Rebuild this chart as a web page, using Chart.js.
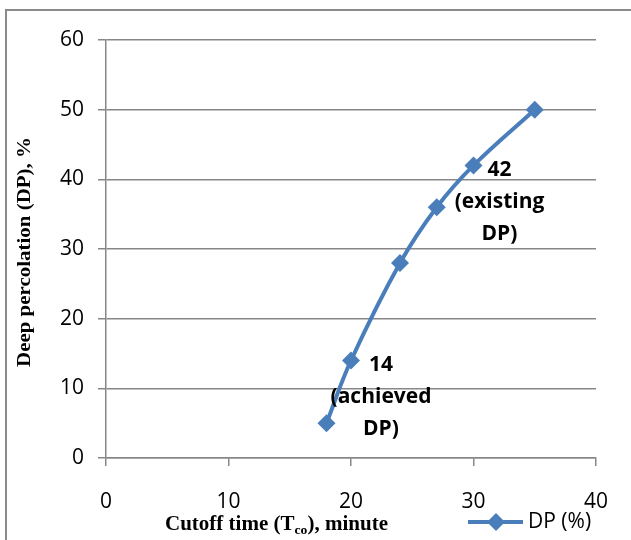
<!DOCTYPE html>
<html>
<head>
<meta charset="utf-8">
<script src="https://cdn.jsdelivr.net/npm/chart.js@4.4.1/dist/chart.umd.min.js"></script>
<style>
    html, body { margin: 0; padding: 0; background: #fff; }
    #wrap { width: 631px; height: 540px; }
</style>
</head>
<body>
<div id="wrap"><canvas id="dpChart" width="631" height="540"></canvas></div>
<script>
// Данные
const cutoffTimes = [18, 20, 24, 27, 30, 35];
const dpValues = [5, 14, 28, 36, 42, 50];
const seriesLabel = 'DP (%)';
const xTickValues = [0, 10, 20, 30, 40];
const yTickValues = [0, 10, 20, 30, 40, 50, 60];
// подписи у точек: индекс точки и строки текста
const noteIndexes = [1, 4];
const noteLines = [['14', '(achieved', 'DP)'], ['42', '(existing', 'DP)']];

const lineColor = '#4A7EBB';
const gridColor = '#878787';
const sans = '"Open Sans", "Liberation Sans", sans-serif';
const serif = '"Liberation Serif", "Times New Roman", serif';

// рамка, подписи осей, легенда и подписи у точек
const extrasPlugin = {
    id: 'extras',
    afterDraw(chart) {
        const ctx = chart.ctx;
        ctx.save();

        // рамка вокруг диаграммы
        ctx.strokeStyle = '#8a8a8a';
        ctx.lineWidth = 2;
        ctx.strokeRect(6, 10, 700, 600);

        // подписи у точек
        const meta = chart.getDatasetMeta(0);
        ctx.fillStyle = '#000';
        ctx.font = 'bold 21px ' + sans;
        ctx.textAlign = 'center';
        ctx.textBaseline = 'middle';
        noteIndexes.forEach((idx, n) => {
            const pt = meta.data[idx];
            const dx = n === 0 ? 30 : 26;
            noteLines[n].forEach((line, k) => {
                ctx.fillText(line, pt.x + dx, pt.y + 5 + k * 32);
            });
        });

        // заголовок оси Y
        ctx.save();
        ctx.translate(25, 252);
        ctx.rotate(-Math.PI / 2);
        ctx.font = 'bold 18px ' + serif;
        const yTitle = 'Deep percolation (DP), %';
        const yw = ctx.measureText(yTitle).width;
        ctx.scale(230 / yw, 1);
        ctx.textAlign = 'center';
        ctx.textBaseline = 'middle';
        ctx.fillText(yTitle, 0, 0);
        ctx.restore();

        // заголовок оси X с нижним индексом
        const parts = [
            { t: 'Cutoff time (T', f: 'bold 20px ' + serif, dy: 0 },
            { t: 'co', f: 'bold 13px ' + serif, dy: 4 },
            { t: '), minute', f: 'bold 20px ' + serif, dy: 0 }
        ];
        let total = 0;
        parts.forEach(p => { ctx.font = p.f; p.w = ctx.measureText(p.t).width; total += p.w; });
        ctx.save();
        ctx.translate(165, 530);
        ctx.scale(223 / total, 1);
        let x = 0;
        ctx.textAlign = 'left';
        ctx.textBaseline = 'alphabetic';
        parts.forEach(p => {
            ctx.font = p.f;
            ctx.fillText(p.t, x, p.dy);
            x += p.w;
        });
        ctx.restore();

        // легенда
        const ly = 522;
        ctx.strokeStyle = lineColor;
        ctx.lineWidth = 4;
        ctx.beginPath();
        ctx.moveTo(468, ly);
        ctx.lineTo(523, ly);
        ctx.stroke();
        ctx.fillStyle = lineColor;
        ctx.beginPath();
        ctx.moveTo(496, ly - 9);
        ctx.lineTo(505, ly);
        ctx.lineTo(496, ly + 9);
        ctx.lineTo(487, ly);
        ctx.closePath();
        ctx.fill();
        ctx.fillStyle = '#000';
        ctx.font = '21px ' + sans;
        ctx.textAlign = 'left';
        ctx.textBaseline = 'middle';
        ctx.fillText(chart.data.datasets[0].label, 528, ly);

        ctx.restore();
    }
};

new Chart(document.getElementById('dpChart'), {
    type: 'line',
    data: {
        datasets: [{
            label: seriesLabel,
            data: cutoffTimes.map((t, i) => ({ x: t, y: dpValues[i] })),
            borderColor: lineColor,
            backgroundColor: lineColor,
            borderWidth: 4,
            tension: 0.4,
            pointStyle: 'rectRot',
            pointRadius: 9,
            pointHoverRadius: 9,
            pointBorderWidth: 0,
            fill: false
        }]
    },
    options: {
        responsive: false,
        animation: false,
        events: [],
        layout: { padding: { top: 40, right: 34, left: 0, bottom: 0 } },
        plugins: {
            legend: { display: false },
            title: { display: false },
            tooltip: { enabled: false }
        },
        scales: {
            x: {
                type: 'linear',
                min: 0,
                max: 40,
                afterFit: s => { s.height = 82; },
                afterBuildTicks: s => { s.ticks = xTickValues.map(v => ({ value: v })); },
                grid: { drawOnChartArea: false, drawTicks: true, tickLength: 8, color: gridColor, lineWidth: 1.5 },
                border: { display: true, color: gridColor, width: 1.5 },
                ticks: { color: '#000', font: { family: sans, size: 21 }, padding: 23, maxRotation: 0 }
            },
            y: {
                min: 0,
                max: 60,
                afterFit: s => { s.width = 106; },
                afterBuildTicks: s => { s.ticks = yTickValues.map(v => ({ value: v })); },
                grid: { drawOnChartArea: true, drawTicks: true, tickLength: 8, color: gridColor, lineWidth: 1.5 },
                border: { display: true, color: gridColor, width: 1.5 },
                ticks: { color: '#000', font: { family: sans, size: 21 }, padding: 14 }
            }
        }
    },
    plugins: [extrasPlugin]
});
</script>
</body>
</html>
